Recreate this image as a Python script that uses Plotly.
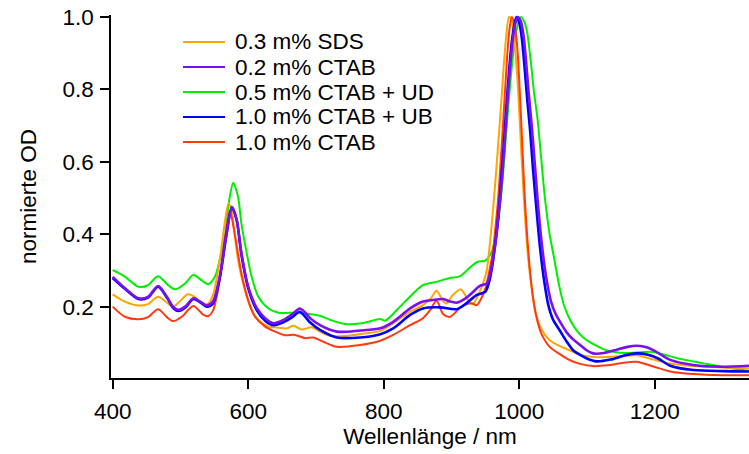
import plotly.graph_objects as go

# Normalised absorption spectra (optical density scaled to the E11 maximum)
wl_sds = [400, 418, 438, 452, 467, 480, 489, 499, 511, 521, 531, 540, 548, 558, 566, 571, 575, 580, 585, 595,
          605, 615, 630, 645, 657, 667, 679, 694, 706, 721, 743, 772, 795, 814, 839, 858, 870, 878, 888, 893,
          902, 914, 927, 932, 940, 946, 952, 957, 961, 965, 969, 973, 977, 981, 985, 989, 993, 997, 1000, 1003,
          1006, 1010, 1014, 1019, 1025, 1033, 1045, 1060, 1075, 1090, 1110, 1130, 1150, 1173, 1198, 1223, 1257,
          1300, 1340]
od_sds = [0.235, 0.215, 0.204, 0.208, 0.228, 0.212, 0.201, 0.215, 0.235, 0.228, 0.212, 0.208, 0.233, 0.33, 0.44,
          0.486, 0.47, 0.40, 0.33, 0.247, 0.192, 0.164, 0.146, 0.143, 0.141, 0.148, 0.138, 0.144, 0.132, 0.12,
          0.12, 0.127, 0.134, 0.155, 0.187, 0.205, 0.225, 0.245, 0.215, 0.21, 0.233, 0.248, 0.212, 0.208, 0.235,
          0.262, 0.30, 0.38, 0.46, 0.55, 0.65, 0.75, 0.86, 0.95, 1.0, 0.99, 0.93, 0.84, 0.74, 0.63, 0.53, 0.41,
          0.32, 0.245, 0.18, 0.138, 0.108, 0.092, 0.08, 0.068, 0.062, 0.062, 0.064, 0.067, 0.055, 0.044, 0.037,
          0.033, 0.031]

wl_ctab02 = [400, 418, 438, 452, 467, 480, 489, 497, 507, 519, 529, 539, 548, 558, 568, 576, 583, 590, 600, 613,
             625, 637, 652, 665, 676, 684, 691, 706, 731, 765, 795, 814, 839, 858, 875, 888, 898, 908, 918, 927,
             942, 952, 957, 961, 966, 970, 974, 978, 982, 986, 990, 994, 998, 1002, 1006, 1010, 1014, 1018, 1022,
             1027, 1033, 1040, 1047, 1054, 1060, 1070, 1080, 1090, 1100, 1109, 1125, 1145, 1160, 1173, 1185, 1198,
             1223, 1257, 1297, 1340]
od_ctab02 = [0.283, 0.252, 0.224, 0.228, 0.258, 0.228, 0.201, 0.192, 0.201, 0.224, 0.215, 0.204, 0.215, 0.284,
             0.403, 0.476, 0.44, 0.348, 0.256, 0.196, 0.169, 0.155, 0.164, 0.18, 0.196, 0.185, 0.17, 0.15, 0.132,
             0.135, 0.141, 0.159, 0.196, 0.215, 0.22, 0.222, 0.215, 0.212, 0.22, 0.233, 0.258, 0.265, 0.29, 0.33,
             0.39, 0.46, 0.54, 0.64, 0.75, 0.85, 0.93, 0.98, 1.0, 0.99, 0.955, 0.88, 0.79, 0.71, 0.62, 0.5, 0.38,
             0.28, 0.215, 0.18, 0.16, 0.13, 0.11, 0.095, 0.08, 0.072, 0.073, 0.083, 0.09, 0.093, 0.09, 0.081,
             0.054, 0.04, 0.035, 0.038]

wl_ctab05_ud = [400, 418, 438, 452, 467, 482, 492, 507, 519, 531, 541, 551, 558, 566, 572, 578, 585, 590, 597,
                605, 615, 630, 645, 662, 677, 706, 720, 743, 770, 795, 802, 829, 858, 879, 898, 913, 928, 938, 950,
                956, 961, 966, 970, 974, 978, 982, 986, 990, 994, 998, 1003, 1008, 1012, 1017, 1022, 1027, 1032,
                1038, 1045, 1052, 1060, 1067, 1075, 1085, 1095, 1109, 1125, 1140, 1159, 1180, 1198, 1215, 1235,
                1257, 1297, 1340]
od_ctab05_ud = [0.302, 0.284, 0.256, 0.26, 0.285, 0.26, 0.249, 0.265, 0.288, 0.274, 0.263, 0.284, 0.33, 0.40,
                0.495, 0.543, 0.504, 0.43, 0.357, 0.284, 0.228, 0.196, 0.184, 0.184, 0.183, 0.176, 0.165, 0.153,
                0.156, 0.167, 0.162, 0.21, 0.26, 0.27, 0.28, 0.285, 0.31, 0.324, 0.328, 0.34, 0.36, 0.40, 0.45,
                0.52, 0.61, 0.71, 0.80, 0.88, 0.94, 0.98, 1.0, 0.985, 0.955, 0.88, 0.79, 0.72, 0.62, 0.50, 0.40,
                0.33, 0.25, 0.20, 0.165, 0.135, 0.115, 0.098, 0.083, 0.076, 0.073, 0.075, 0.076, 0.068, 0.058,
                0.05, 0.036, 0.023]

wl_ctab10_ub = [400, 418, 438, 452, 467, 480, 489, 497, 507, 519, 529, 539, 548, 558, 568, 576, 583, 590, 600,
                613, 625, 637, 652, 665, 676, 691, 706, 731, 765, 795, 814, 839, 858, 883, 908, 922, 937, 950, 955,
                960, 965, 969, 973, 977, 981, 985, 989, 993, 996, 1000, 1004, 1008, 1012, 1016, 1020, 1025, 1031,
                1037, 1043, 1050, 1060, 1070, 1080, 1090, 1100, 1114, 1135, 1155, 1173, 1190, 1205, 1223, 1257,
                1300, 1340]
od_ctab10_ub = [0.28, 0.25, 0.222, 0.226, 0.256, 0.226, 0.198, 0.189, 0.198, 0.222, 0.213, 0.201, 0.21, 0.28,
                0.40, 0.476, 0.44, 0.345, 0.252, 0.19, 0.162, 0.15, 0.158, 0.172, 0.187, 0.158, 0.137, 0.116,
                0.116, 0.125, 0.141, 0.178, 0.196, 0.199, 0.194, 0.21, 0.233, 0.242, 0.265, 0.31, 0.38, 0.45,
                0.54, 0.64, 0.75, 0.85, 0.93, 0.98, 1.0, 0.985, 0.94, 0.86, 0.77, 0.69, 0.59, 0.48, 0.36, 0.27,
                0.205, 0.165, 0.135, 0.105, 0.08, 0.068, 0.058, 0.05, 0.055, 0.066, 0.072, 0.068, 0.058, 0.038,
                0.026, 0.023, 0.022]

wl_ctab10 = [400, 418, 438, 452, 467, 480, 489, 502, 519, 534, 541, 548, 558, 566, 573, 580, 590, 600, 610, 625,
             640, 654, 669, 684, 696, 711, 731, 765, 795, 814, 839, 858, 868, 878, 888, 898, 915, 930, 937, 943,
             950, 956, 961, 965, 969, 973, 977, 981, 985, 989, 993, 997, 1001, 1004, 1008, 1012, 1017, 1022, 1027,
             1033, 1045, 1060, 1075, 1090, 1109, 1130, 1150, 1173, 1198, 1223, 1257, 1300, 1340]
od_ctab10 = [0.201, 0.173, 0.166, 0.172, 0.194, 0.172, 0.161, 0.173, 0.203, 0.178, 0.175, 0.19, 0.274, 0.394,
             0.465, 0.403, 0.293, 0.219, 0.173, 0.146, 0.132, 0.122, 0.123, 0.114, 0.116, 0.104, 0.09, 0.095,
             0.107, 0.123, 0.15, 0.169, 0.19, 0.217, 0.18, 0.173, 0.201, 0.21, 0.205, 0.22, 0.25, 0.30, 0.35,
             0.42, 0.50, 0.61, 0.73, 0.855, 0.955, 1.0, 0.98, 0.92, 0.79, 0.67, 0.51, 0.39, 0.28, 0.205, 0.16,
             0.125, 0.09, 0.07, 0.053, 0.043, 0.037, 0.039, 0.045, 0.049, 0.036, 0.022, 0.015, 0.012, 0.012]

# (legend label, wavelengths, values, colour, width) in legend order
series = [
    ("0.3 m% SDS", wl_sds, od_sds, "#FFA500", 2.0),
    ("0.2 m% CTAB", wl_ctab02, od_ctab02, "#7A10EE", 2.6),
    ("0.5 m% CTAB + UD", wl_ctab05_ud, od_ctab05_ud, "#00EE00", 2.0),
    ("1.0 m% CTAB + UB", wl_ctab10_ub, od_ctab10_ub, "#0000FF", 2.6),
    ("1.0 m% CTAB", wl_ctab10, od_ctab10, "#FF3A10", 2.0),
]
draw_order = [2, 0, 4, 3, 1]

FONT = "Liberation Sans, Arial, sans-serif"
FS = 22.5
W, H = 749, 454
ML, MR, MT, MB = 111, 0, 15, 76

fig = go.Figure()
for i in draw_order:
    name, x, y, color, width = series[i]
    fig.add_trace(go.Scatter(
        x=x, y=y, name=name, mode="lines",
        line=dict(color=color, width=width, shape="spline", smoothing=0.8),
        showlegend=False,
    ))

# legend drawn as line samples and text in plot-paper coordinates
pw, ph = W - ML - MR, H - MT - MB
row0, row_step = 42, 25
for k, (name, x, y, color, width) in enumerate(series):
    py = row0 + k * row_step
    yp = (H - MB - py) / ph
    fig.add_shape(type="line", xref="paper", yref="paper",
                  x0=(183 - ML) / pw, x1=(225 - ML) / pw, y0=yp, y1=yp,
                  line=dict(color=color, width=2.2))
    fig.add_annotation(xref="paper", yref="paper", x=(233 - ML) / pw, y=yp,
                       text=name, showarrow=False, xanchor="left", yanchor="middle",
                       font=dict(family=FONT, size=FS, color="black"))

axis_common = dict(
    showgrid=False, zeroline=False, showline=True, linecolor="black", linewidth=1.5,
    ticks="outside", ticklen=9, tickwidth=1.5, tickcolor="black",
    tickfont=dict(family=FONT, size=FS, color="black"),
    mirror=False,
)

fig.update_layout(
    width=W, height=H,
    margin=dict(l=ML, r=MR, t=MT, b=MB),
    paper_bgcolor="white", plot_bgcolor="white",
    font=dict(family=FONT, size=FS, color="black"),
    xaxis=dict(range=[397.5, 1339.2], tickvals=[400, 600, 800, 1000, 1200],
               title=dict(text="Wellenlänge / nm", font=dict(family=FONT, size=FS), standoff=4),
               ticklabelstandoff=3, **axis_common),
    yaxis=dict(range=[0.0041, 1.0055], tickvals=[0.2, 0.4, 0.6, 0.8, 1.0], ticktext=["0.2", "0.4", "0.6", "0.8", "1.0"],
               title=dict(text="normierte OD", font=dict(family=FONT, size=FS), standoff=20),
               ticklabelstandoff=2, **axis_common),
)

fig.write_html("out.html")
